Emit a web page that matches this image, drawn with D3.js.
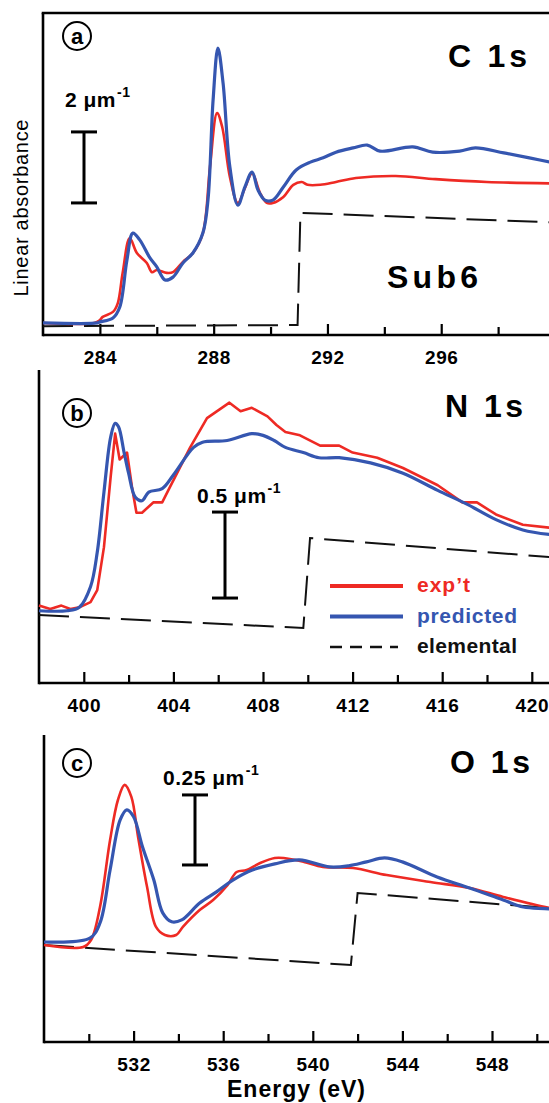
<!DOCTYPE html>
<meta charset="utf-8">
<head>
    <title>C, N, O 1s spectra</title>
    <script src="https://d3js.org/d3.v7.min.js"></script>
    <style>
        body { margin: 0; background: #fff; }
        text { font-family: "Liberation Sans", Arial, Helvetica, sans-serif; font-weight: bold; }
    </style>
</head>
<body>
<script>
    // ---- data (energies in eV, absorbance in um^-1 above panel baseline) ----
    // C 1s
    var cExpE  = [282.0, 283.8, 284.0, 284.1, 284.46, 284.63, 284.8, 285.05, 285.3, 285.65, 285.83, 286.0, 286.35, 286.57, 286.92, 287.27, 287.62, 287.87, 288.12, 288.3, 288.57, 288.85, 289.1, 289.35, 289.63, 289.87, 290.08, 290.45, 290.8, 291.1, 291.3, 291.75, 292.3, 293.0, 294.4, 295.8, 297.6, 300.0];
    var cExpV  = [0.34, 0.34, 0.42, 0.51, 0.65, 0.90, 1.75, 2.73, 2.31, 2.03, 1.77, 1.83, 1.75, 1.77, 2.06, 2.31, 2.87, 4.73, 6.25, 5.86, 4.45, 3.72, 4.14, 4.56, 4.00, 3.72, 3.72, 3.89, 4.23, 4.31, 4.23, 4.23, 4.31, 4.42, 4.48, 4.39, 4.31, 4.27];
    var cPredE = [282.0, 283.9, 284.0, 284.46, 284.7, 284.95, 285.16, 285.4, 285.76, 286.0, 286.29, 286.57, 286.92, 287.27, 287.62, 287.8, 287.98, 288.15, 288.33, 288.57, 288.85, 289.1, 289.35, 289.56, 289.8, 290.08, 290.45, 290.9, 291.4, 291.85, 292.3, 292.9, 293.4, 293.85, 295.0, 295.7, 296.65, 297.2, 298.2, 299.1, 300.0];
    var cPredV = [0.34, 0.34, 0.37, 0.48, 0.79, 2.11, 2.87, 2.68, 2.17, 1.92, 1.55, 1.63, 2.03, 2.31, 2.87, 3.80, 6.62, 8.08, 7.10, 4.73, 3.66, 4.17, 4.59, 4.08, 3.80, 3.80, 4.17, 4.65, 4.87, 4.99, 5.15, 5.27, 5.35, 5.18, 5.30, 5.15, 5.18, 5.27, 5.13, 4.99, 4.84];
    var cElemE = [282.0, 290.95, 291.05, 300.0];
    var cElemV = [0.25, 0.28, 3.44, 3.17];

    // N 1s
    var nExpE  = [398.0, 398.5, 399.0, 399.4, 399.8, 400.3, 400.6, 400.9, 401.2, 401.4, 401.6, 401.93, 402.15, 402.35, 402.6, 403.1, 403.5, 403.85, 404.75, 405.5, 406.5, 407.0, 407.5, 408.2, 408.6, 409.0, 409.65, 410.55, 411.4, 412.0, 413.1, 414.25, 415.8, 416.9, 417.55, 418.4, 419.6, 421.0];
    var nExpV  = [0.45, 0.43, 0.45, 0.43, 0.44, 0.47, 0.54, 0.79, 1.20, 1.45, 1.30, 1.34, 1.14, 0.99, 0.99, 1.05, 1.05, 1.14, 1.37, 1.54, 1.63, 1.58, 1.60, 1.55, 1.50, 1.46, 1.44, 1.38, 1.38, 1.34, 1.31, 1.25, 1.15, 1.05, 1.05, 0.98, 0.92, 0.90];
    var nPredE = [398.0, 399.25, 399.8, 400.3, 400.6, 400.9, 401.2, 401.4, 401.55, 401.8, 402.0, 402.3, 402.6, 402.9, 403.5, 404.0, 404.9, 405.3, 406.4, 407.5, 408.0, 408.5, 409.0, 409.8, 410.5, 411.4, 412.8, 414.25, 415.8, 417.1, 418.4, 419.6, 421.0];
    var nPredV = [0.42, 0.42, 0.44, 0.56, 0.76, 1.11, 1.43, 1.51, 1.49, 1.34, 1.22, 1.08, 1.06, 1.11, 1.13, 1.21, 1.37, 1.40, 1.41, 1.45, 1.44, 1.41, 1.37, 1.34, 1.31, 1.31, 1.28, 1.22, 1.12, 1.04, 0.95, 0.89, 0.86];
    var nElemE = [398.0, 409.8, 410.1, 421.0];
    var nElemV = [0.395, 0.32, 0.843, 0.73];

    // O 1s
    var oExpE  = [528.0, 529.75, 530.1, 530.5, 530.95, 531.3, 531.6, 531.9, 532.2, 532.6, 533.0, 533.4, 533.9, 534.2, 534.95, 535.55, 536.2, 536.6, 537.05, 537.65, 538.3, 538.7, 539.6, 540.45, 541.8, 543.3, 545.25, 547.0, 548.5, 550.55, 552.0];
    var oExpV  = [0.346, 0.339, 0.364, 0.482, 0.721, 0.864, 0.918, 0.875, 0.732, 0.554, 0.411, 0.382, 0.382, 0.411, 0.471, 0.507, 0.561, 0.607, 0.614, 0.639, 0.657, 0.657, 0.643, 0.625, 0.621, 0.596, 0.571, 0.550, 0.518, 0.479, 0.46];
    var oPredE = [528.0, 530.05, 530.5, 530.95, 531.4, 531.7, 532.0, 532.4, 532.9, 533.3, 533.7, 534.15, 534.95, 535.7, 536.45, 537.3, 538.3, 539.4, 540.75, 541.6, 542.4, 543.2, 544.0, 545.55, 547.0, 548.5, 549.4, 550.55, 552.0];
    var oPredV = [0.357, 0.371, 0.425, 0.614, 0.793, 0.829, 0.804, 0.696, 0.579, 0.461, 0.429, 0.436, 0.496, 0.536, 0.579, 0.614, 0.636, 0.650, 0.625, 0.629, 0.643, 0.657, 0.643, 0.589, 0.550, 0.507, 0.482, 0.475, 0.46];
    var oElemE = [528.0, 541.7, 542.0, 552.0];
    var oElemV = [0.346, 0.275, 0.532, 0.469];

    // ticks
    var cTicks = [284, 288, 292, 296];
    var nTicks = [400, 404, 408, 412, 416, 420];
    var oTicks = [532, 536, 540, 544, 548];

    // scale bars (um^-1)
    var scaleBars = [2, 0.5, 0.25];
    var scaleLabels = ["2", "0.5", "0.25"];
    var panelLetters = ["a", "b", "c"];
    var edgeNames = ["C 1s", "N 1s", "O 1s"];

    var red = "#ee2a24", blue = "#3556b0";

    var width = 549, height = 1103;
    var svg = d3.select("body").append("svg")
        .attr("width", width)
        .attr("height", height);

    function zip(e, v) { return e.map(function(d, i) { return [d, v[i]]; }); }

    var panels = [
        { x0: 282, x1: 300, left: 43, right: 555, top: 13, bottom: 335, vmax: 9.07, box: true,
          ticks: cTicks, exp: zip(cExpE, cExpV), pred: zip(cPredE, cPredV), elem: zip(cElemE, cElemV),
          bar: { x: 84, v0: 3.72, lx: 65, ly: 107 }, title: { x: 448, y: 67, len: 79 }, circ: { x: 77, y: 36 } },
        { x0: 398, x1: 422, left: 39, right: 39 + 24 * 22.4, top: 370, bottom: 683, vmax: 1.82, box: false,
          ticks: nTicks, exp: zip(nExpE, nExpV), pred: zip(nPredE, nPredV), elem: zip(nElemE, nElemV),
          bar: { x: 225, v0: 0.494, lx: 197, ly: 503 }, title: { x: 445, y: 417, len: 78 }, circ: { x: 77, y: 413 } },
        { x0: 528, x1: 552, left: 44, right: 44 + 24 * 22.4, top: 735, bottom: 1042, vmax: 1.096, box: false,
          ticks: oTicks, exp: zip(oExpE, oExpV), pred: zip(oPredE, oPredV), elem: zip(oElemE, oElemV),
          bar: { x: 195, v0: 0.632, lx: 163, ly: 785 }, title: { x: 450, y: 773, len: 80 }, circ: { x: 77, y: 763 } }
    ];

    panels.forEach(function(p, i) {
        var g = svg.append("g");
        var x = d3.scaleLinear().domain([p.x0, p.x1]).range([p.left, p.right]);
        var y = d3.scaleLinear().domain([0, p.vmax]).range([p.bottom, p.top]);

        var minor = d3.range(p.x0, p.x1 + 0.01, 2).filter(function(d) { return p.ticks.indexOf(d) < 0 && d > p.x0; });

        // minor ticks
        var gm = g.append("g").attr("transform", "translate(0," + p.bottom + ")")
            .call(d3.axisBottom(x).tickValues(minor).tickSize(-8).tickFormat(""));
        gm.select(".domain").remove();
        gm.selectAll("line").attr("stroke", "#000").attr("stroke-width", 2.2);

        // major ticks + labels
        var ga = g.append("g").attr("transform", "translate(0," + p.bottom + ")")
            .call(d3.axisBottom(x).tickValues(p.ticks).tickSize(-11).tickPadding(16).tickFormat(d3.format("d")));
        ga.select(".domain").remove();
        ga.selectAll("line").attr("stroke", "#000").attr("stroke-width", 2.2);
        ga.selectAll("text").attr("font-size", 19).attr("fill", "#000")
            .attr("font-family", "Liberation Sans, Arial, sans-serif").attr("font-weight", "bold")
            .attr("letter-spacing", 0.6);

        // axis lines
        g.append("line").attr("x1", p.left).attr("x2", width).attr("y1", p.bottom).attr("y2", p.bottom)
            .attr("stroke", "#000").attr("stroke-width", 2.6);
        g.append("line").attr("x1", p.left).attr("x2", p.left).attr("y1", p.top).attr("y2", p.bottom + 1.3)
            .attr("stroke", "#000").attr("stroke-width", 2.6);
        if (p.box) {
            g.append("line").attr("x1", p.left - 1.3).attr("x2", width).attr("y1", p.top).attr("y2", p.top)
                .attr("stroke", "#000").attr("stroke-width", 2.6);
        }

        var line = d3.line().x(function(d) { return x(d[0]); }).y(function(d) { return y(d[1]); });
        var smooth = d3.line().x(function(d) { return x(d[0]); }).y(function(d) { return y(d[1]); })
            .curve(d3.curveCatmullRom.alpha(0.5));

        g.append("path").datum(p.elem).attr("d", line)
            .attr("fill", "none").attr("stroke", "#111").attr("stroke-width", 2)
            .attr("stroke-dasharray", "30,11");
        g.append("path").datum(p.exp).attr("d", i == 1 ? line : smooth)
            .attr("fill", "none").attr("stroke", red).attr("stroke-width", 2.6).attr("stroke-linejoin", "round");
        g.append("path").datum(p.pred).attr("d", smooth)
            .attr("fill", "none").attr("stroke", blue).attr("stroke-width", 3.2).attr("stroke-linejoin", "round");

        // scale bar
        var yb0 = y(p.bar.v0), yb1 = y(p.bar.v0 + scaleBars[i]);
        g.append("line").attr("x1", p.bar.x).attr("x2", p.bar.x).attr("y1", yb0).attr("y2", yb1)
            .attr("stroke", "#000").attr("stroke-width", 3);
        [yb0, yb1].forEach(function(yy) {
            g.append("line").attr("x1", p.bar.x - 13).attr("x2", p.bar.x + 13).attr("y1", yy).attr("y2", yy)
                .attr("stroke", "#000").attr("stroke-width", 3);
        });
        var lab = g.append("text").attr("x", p.bar.lx).attr("y", p.bar.ly).attr("font-size", 21)
            .attr("letter-spacing", 0.5);
        lab.append("tspan").text(scaleLabels[i] + " \u03bcm");
        lab.append("tspan").attr("dx", 1).attr("dy", -10).attr("font-size", 14).text("-1");

        // edge name
        g.append("text").attr("x", p.title.x).attr("y", p.title.y).attr("font-size", 32)
            .attr("textLength", p.title.len).attr("lengthAdjust", "spacing")
            .text(edgeNames[i]);

        // panel letter
        g.append("circle").attr("cx", p.circ.x).attr("cy", p.circ.y).attr("r", 14)
            .attr("fill", "none").attr("stroke", "#000").attr("stroke-width", 2);
        g.append("text").attr("x", p.circ.x).attr("y", p.circ.y + 7.5).attr("font-size", 22)
            .attr("text-anchor", "middle").text(panelLetters[i]);
    });

    // Sub6 label
    svg.append("text").attr("x", 387).attr("y", 288).attr("font-size", 32)
        .attr("textLength", 91).attr("lengthAdjust", "spacing").text("Sub6");

    // y label
    svg.append("text").attr("transform", "translate(28,208) rotate(-90)")
        .attr("text-anchor", "middle").attr("font-size", 20)
        .style("font-weight", "normal")
        .attr("textLength", 177).attr("lengthAdjust", "spacing")
        .text("Linear absorbance");

    // x label
    svg.append("text").attr("x", 227).attr("y", 1097).attr("font-size", 23)
        .attr("textLength", 138).attr("lengthAdjust", "spacing")
        .text("Energy (eV)");

    // legend (panel b)
    var legendItems = ["exp\u2019t", "predicted", "elemental"];
    var legendColors = [red, blue, "#111"];
    var legend = svg.append("g").attr("id", "legend");
    legendItems.forEach(function(d, i) {
        var yy = 586 + i * 30.5;
        legend.append("line").attr("x1", 330).attr("x2", i == 2 ? 398 : 403).attr("y1", yy).attr("y2", yy)
            .attr("stroke", legendColors[i]).attr("stroke-width", i == 2 ? 2.4 : 4)
            .attr("stroke-dasharray", i == 2 ? "12,8" : null);
        legend.append("text").attr("x", 417).attr("y", yy + 6).attr("font-size", 21)
            .attr("fill", legendColors[i])
            .attr("textLength", i == 0 ? 53 : 100).attr("lengthAdjust", "spacing")
            .text(d);
    });
</script>
</body>
</html>
